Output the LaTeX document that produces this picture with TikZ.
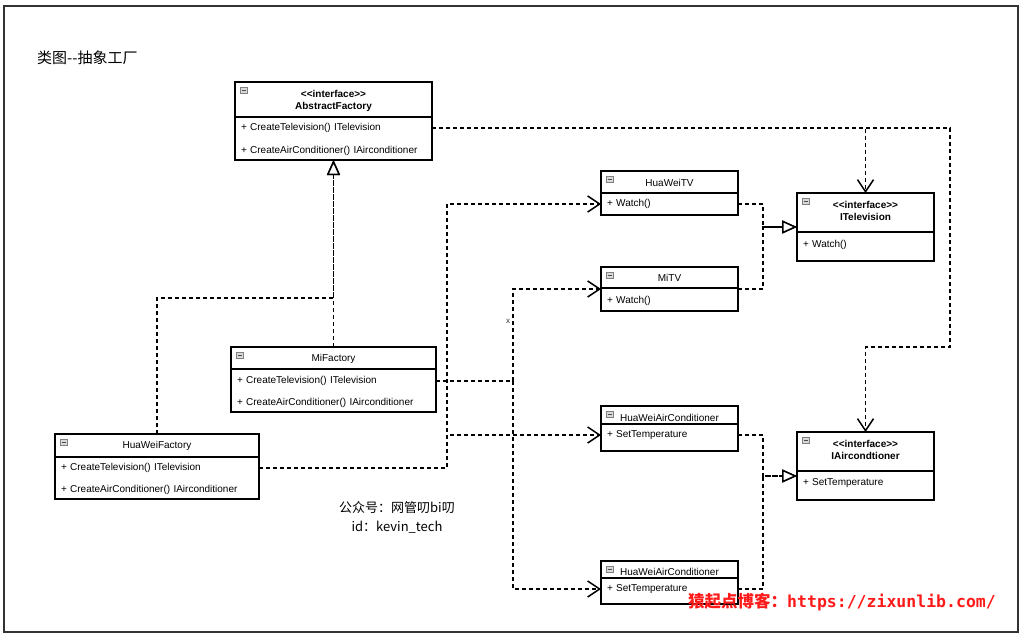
\documentclass[tikz,border=0pt]{standalone}
\usepackage{fontspec}
\setmainfont{Liberation Sans}
\newfontfamily\cjk{Noto Sans CJK SC}
\newfontfamily\wmmono{DejaVu Sans Mono}
\usetikzlibrary{arrows.meta,positioning}

\definecolor{wmred}{HTML}{FF1A1A}

\tikzset{
  classframe/.style={draw, line width=1.4pt, inner sep=0pt, outer sep=0pt, fill=white},
  classline/.style={line width=1.2pt},
  classtitle/.style={inner sep=0pt, align=center, font=\fontsize{10}{12}\selectfont},
  oprow/.style={anchor=west, inner xsep=6pt, inner ysep=1pt, outer sep=0pt, align=left,
    font=\fontsize{10}{12}\selectfont},
  depend/.style={line width=1.5pt, dash pattern=on 4pt off 3pt,
    -{Straight Barb[length=12pt,width=16pt]}},
  realize/.style={line width=1.5pt, dash pattern=on 4pt off 3pt,
    -{Triangle[open,fill=white,length=15pt,width=13pt]}},
  pics/collapse/.style={code={
    \draw[gray, fill=gray!30, line width=0.5pt] (0,0) rectangle (7,6);
    \draw[gray!60!black, line width=0.6pt] (1.5,3) -- (5.5,3);}},
}

% #1 name, #2 top left, #3 width, #4 height, #5 divider, #6 title offset, #7 title
\newcommand{\umlbox}[7]{%
  \node[classframe, minimum width=#3pt, minimum height=#4pt, anchor=north west] (#1) at (#2) {};
  \draw[classline] ([yshift=-#5pt]#1.north west) -- ([yshift=-#5pt]#1.north east);
  \node[classtitle] (#1-title) at ([yshift=-#6pt]#1.north) {#7};
  \pic at ([xshift=5pt,yshift=-5pt]#1.north west) {collapse};
}
\newcommand{\stereo}{\textbf{<{}<interface>{}>}}

\begin{document}
\begin{tikzpicture}[x=1pt, y=-1pt]
  \useasboundingbox (0,0) rectangle (1024,637);
  \draw[line width=1.5pt, black!80] (4,6) rectangle (1018,632);

  \node[font=\cjk\fontsize{15}{18}\selectfont, anchor=west, inner sep=0pt] (diagramtitle) at (37,58) {类图-{}-抽象工厂};

  % interfaces
  \umlbox{AbstractFactory}{235,82}{197}{78}{35}{19}{\stereo\\\textbf{AbstractFactory}}
  \node[oprow, text width=185pt] (AbstractFactory-op1) at ([yshift=-46pt]AbstractFactory.north west) {+ CreateTelevision() ITelevision};
  \node[oprow, text width=185pt] (AbstractFactory-op2) at ([yshift=-69pt]AbstractFactory.north west) {+ CreateAirConditioner() IAirconditioner};

  \umlbox{ITelevision}{797,193}{137}{68}{39}{18}{\stereo\\\textbf{ITelevision}}
  \node[oprow, text width=125pt] (ITelevision-op1) at ([yshift=-52pt]ITelevision.north west) {+ Watch()};

  \umlbox{IAircondtioner}{797,432}{137}{68}{39}{18}{\stereo\\\textbf{IAircondtioner}}
  \node[oprow, text width=125pt] (IAircondtioner-op1) at ([yshift=-51pt]IAircondtioner.north west) {+ SetTemperature};

  % products
  \umlbox{HuaWeiTV}{601,171}{137}{44}{22}{12}{HuaWeiTV}
  \node[oprow, text width=125pt] (HuaWeiTV-op1) at ([yshift=-33pt]HuaWeiTV.north west) {+ Watch()};

  \umlbox{MiTV}{601,267}{137}{44}{21}{11}{MiTV}
  \node[oprow, text width=125pt] (MiTV-op1) at ([yshift=-34pt]MiTV.north west) {+ Watch()};

  \umlbox{HuaWeiAirCond}{601,406}{137}{45}{18}{12}{HuaWeiAirConditioner}
  \node[oprow, text width=125pt] (HuaWeiAirCond-op1) at ([yshift=-29pt]HuaWeiAirCond.north west) {+ SetTemperature};

  \umlbox{MiAirCond}{601,561}{137}{43}{17}{11}{HuaWeiAirConditioner}
  \node[oprow, text width=125pt] (MiAirCond-op1) at ([yshift=-28pt]MiAirCond.north west) {+ SetTemperature};

  % factories
  \umlbox{MiFactory}{231,347}{205}{65}{22}{12}{MiFactory}
  \node[oprow, text width=193pt] (MiFactory-op1) at ([yshift=-34pt]MiFactory.north west) {+ CreateTelevision() ITelevision};
  \node[oprow, text width=193pt] (MiFactory-op2) at ([yshift=-56pt]MiFactory.north west) {+ CreateAirConditioner() IAirconditioner};

  \umlbox{HuaWeiFactory}{55,434}{204}{65}{23}{12}{HuaWeiFactory}
  \node[oprow, text width=192pt] (HuaWeiFactory-op1) at ([yshift=-34pt]HuaWeiFactory.north west) {+ CreateTelevision() ITelevision};
  \node[oprow, text width=192pt] (HuaWeiFactory-op2) at ([yshift=-56pt]HuaWeiFactory.north west) {+ CreateAirConditioner() IAirconditioner};

  \node[font=\fontsize{8}{9}\selectfont, text=black!80, inner sep=0pt] (xmark) at (508,321) {x};

  % realizations
  \draw[realize] (MiFactory.north) -- (AbstractFactory.south);
  \draw[realize] (HuaWeiFactory.north) -- ++(0,-136) -| (AbstractFactory.south);
  \draw[realize] (HuaWeiTV-op1.east) -- ++(25,0) |- (ITelevision.west);
  \draw[realize] (MiTV.east) -- ++(25,0) |- (ITelevision.west);
  \draw[realize] (HuaWeiAirCond-op1.east) -- ++(25,0) |- ([yshift=-10pt]IAircondtioner.west);
  \draw[realize] (MiAirCond-op1.east) -- ++(25,0) |- ([yshift=-10pt]IAircondtioner.west);

  % dependencies
  \draw[depend] (AbstractFactory-op1.east) -| (ITelevision.north);
  \draw[depend] (AbstractFactory-op1.east) -- ++(518,0) -- ++(0,219) -| (IAircondtioner.north);
  \draw[depend] (HuaWeiFactory-op1.east) -- ++(188,0) |- (HuaWeiTV-op1.west);
  \draw[depend] (HuaWeiFactory-op1.east) -- ++(188,0) |- (HuaWeiAirCond-op1.west);
  \draw[depend] (MiFactory-op1.east) -- ++(77,0) |- (MiTV.west);
  \draw[depend] (MiFactory-op1.east) -- ++(77,0) |- (MiAirCond-op1.west);

  % watermarks
  \node[font=\cjk\fontsize{13}{19}\selectfont, align=center, inner sep=0pt] (account) at (397,517) {公众号：网管叨bi叨\\id：kevin\_tech};
  \node[anchor=west, text=wmred, inner sep=0pt, font=\fontsize{16.5}{19}\selectfont] (siteurl) at (688,602) {{\cjk\bfseries 猿起点博客：}{\wmmono\bfseries https://zixunlib.com/}};
\end{tikzpicture}
\end{document}
